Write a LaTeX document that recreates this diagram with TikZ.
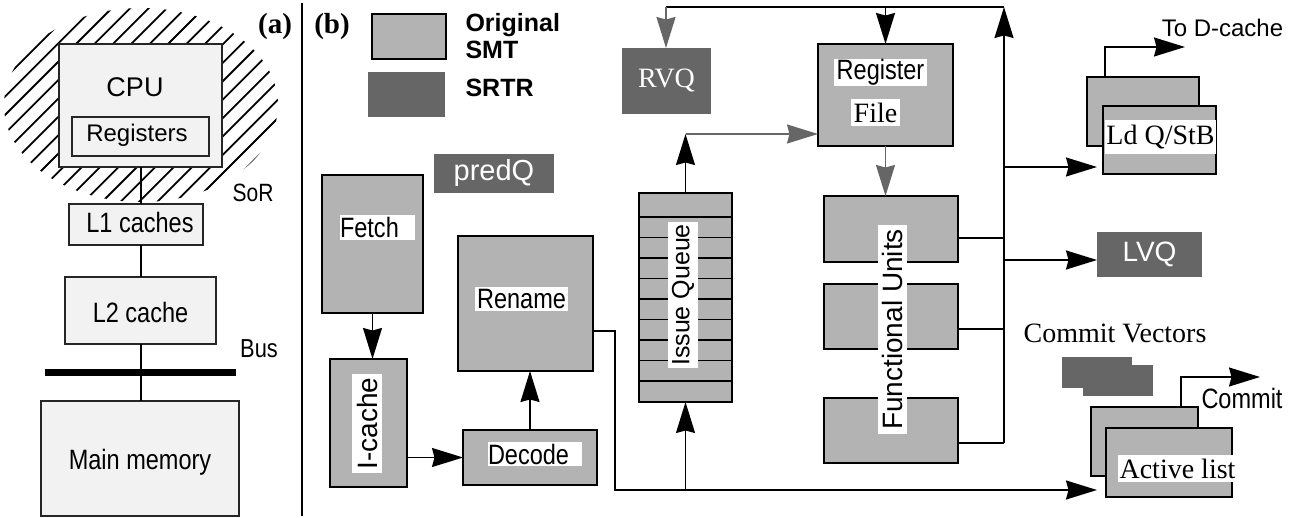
\documentclass[tikz,border=0pt]{standalone}
\usepackage{fontspec}
\setmainfont{Liberation Serif}
\newfontfamily\sfn{Liberation Sans}
\newfontfamily\sfc{Liberation Sans}[FakeStretch=0.84]
\usetikzlibrary{arrows.meta,calc}
\definecolor{lg}{HTML}{B3B3B3}
\definecolor{dg}{HTML}{666666}
\definecolor{pg}{HTML}{F2F2F2}
\newcommand\myfs[1]{\fontsize{#1}{#1}\selectfont}
\newcommand\mybox[6]{\node[#1, anchor=north west, minimum width={(#5-#3)*1pt}, minimum height={(#6-#4)*1pt}, inner sep=0pt, outer sep=0pt] (#2) at (#3,#4) {};}
\tikzset{
  bl/.style={draw=black, fill=lg, line width=1.8pt},
  bd/.style={draw=none, fill=dg},
  ba/.style={draw=black!85, fill=pg, line width=1.3pt},
  wl/.style={fill=white, inner sep=0pt},
  ln/.style={line width=1.6pt},
  bigtip/.tip={Stealth[length=31pt 0,width=19pt 0,inset=2.5pt]},
  bar/.style={-bigtip, line width=1.6pt},
  gar/.style={-bigtip, draw=dg, line width=1.6pt},
}
\begin{document}
\begin{tikzpicture}[x=1pt, y=-1pt]
\useasboundingbox (0,0) rectangle (1296,518);
\fill[white] (0,0) rectangle (1296,518);

% ---------------- (a) ----------------
\begin{scope}
  \clip (141,105) ellipse [x radius=137pt, y radius=97pt];
  \foreach \k in {-14,...,18} \draw[line width=1.8pt] ({\k*18.4},212) -- ++(210,-210);
\end{scope}
\mybox{ba}{cpu}{59}{44}{222}{167}
\mybox{ba}{reg}{72}{117}{209}{156}
\mybox{ba}{l1}{69}{204}{203}{245}
\mybox{ba}{l2}{65}{277}{216}{344}
\mybox{ba}{mm}{41}{401}{239}{516}
\coordinate (cx) at (141,0);
\draw[line width=1.3pt] (cpu.south -| cx) -- (l1.north -| cx);
\draw[line width=1.3pt] (l1.south -| cx) -- (l2.north -| cx);
\draw[line width=1.3pt] (l2.south -| cx) -- (mm.north -| cx);
\mybox{fill=black}{bus}{45}{369}{236}{376}

\node[anchor=base, font=\sfn\myfs{27}] (cput) at (135,97) {CPU};
\node[anchor=base, font=\sfn\myfs{24}] (regt) at (137,141.5) {Registers};
\node[anchor=base, font=\sfc\myfs{25}] (sort) at (253,201.5) {SoR};
\node[anchor=base, font=\sfc\myfs{28}] (l1t) at (140,233) {L1 caches};
\node[anchor=base, font=\sfc\myfs{28}] (l2t) at (140.5,323) {L2 cache};
\node[anchor=base, font=\sfc\myfs{26}] (bust) at (259,358) {Bus};
\node[anchor=base, font=\sfc\myfs{28}] (mmt) at (140,469) {Main memory};
\node[anchor=base, font=\bfseries\myfs{29}] (la) at (275,34) {(a)};

\coordinate (sepT) at (302,3);
\coordinate (sepB) at (302,516);
\draw[line width=1.8pt] (sepT) -- (sepB);

% ---------------- (b) ----------------
\node[anchor=base, font=\bfseries\myfs{29}] (lb) at (332,34) {(b)};
\mybox{bl}{legl}{372}{14}{446}{59}
\mybox{bd}{legd}{368}{72}{445}{117}
\node[anchor=base west, font=\sfn\bfseries\myfs{25}] (orig) at (462,32) {Original};
\node[anchor=base west, font=\sfn\bfseries\myfs{25}] (smt) at (462,59) {SMT};
\node[anchor=base west, font=\sfn\bfseries\myfs{25}] (srtr) at (462,97) {SRTR};

\mybox{bd}{predq}{434}{154}{554}{193}
\mybox{bl}{fetch}{322}{175}{423}{313}
\mybox{bl}{ren}{458}{236}{593}{371}
\mybox{bl}{icache}{330}{359}{407}{487}
\mybox{bl}{dec}{463}{430}{597}{485}
\mybox{bl}{iq}{639}{193}{732}{402}
\foreach \k in {0,...,8} \draw[line width=1.6pt] (639,{217+20.5*\k}) -- (732,{217+20.5*\k});
\mybox{bd}{rvq}{622}{48}{711}{114}
\mybox{bl}{rf}{818}{44}{953}{146}
\mybox{bl}{fu1}{824}{196}{958}{262}
\mybox{bl}{fu2}{824}{284}{958}{349}
\mybox{bl}{fu3}{824}{398}{958}{463}
\mybox{bl}{ldb}{1087}{77}{1199}{146}
\mybox{bl}{ldf}{1103}{106}{1216}{174}
\mybox{bd}{lvq}{1097}{232}{1202}{277}
\mybox{bd}{cvb}{1062}{357}{1132}{388}
\mybox{bd}{cvf}{1083}{365}{1153}{396}
\mybox{bl}{alb}{1091}{407}{1198}{476}
\mybox{bl}{alf}{1106}{428}{1232}{497}

% labels in dark boxes
\node[font=\sfn\myfs{29}, text=white] (predqt) at (predq) {predQ};
\node[font=\myfs{28}, text=white] (rvqt) at (rvq) {RVQ};
\node[font=\sfn\myfs{28}, text=white] (lvqt) at (lvq) {LVQ};

% white-backed labels
\node[wl, font=\sfc\myfs{28}, text width=75pt, align=left, minimum height=25pt] (fetcht) at (377.5,227.5) {Fetch};
\node[wl, font=\sfc\myfs{28}, minimum width=93pt, minimum height=24pt] (rent) at (521.5,299) {Rename};
\node[wl, font=\sfc\myfs{28}, text width=94pt, align=left, minimum height=24pt] (dect) at (535,454) {Decode};
\node[wl, font=\sfn\myfs{28}, rotate=90, minimum width=99pt, minimum height=30pt] (icachet) at (367,423.5) {I-cache};
\node[wl, font=\sfn\myfs{25}, rotate=90, minimum width=146pt, minimum height=30pt] (iqt) at (683,295) {Issue Queue};
\node[wl, font=\sfn\myfs{28}, rotate=90, minimum width=209pt, minimum height=29pt] (fut) at (892.5,329.5) {Functional Units};
\node[wl, font=\sfc\myfs{28}, minimum width=93pt, minimum height=27pt] (rft1) at (880.5,72.5) {Register};
\node[wl, font=\myfs{28}, minimum width=49pt, minimum height=27pt] (rft2) at (875.5,112.5) {File};
\node[wl, font=\myfs{28}, minimum width=111pt, minimum height=34pt] (ldt) at (1160.5,137) {Ld Q/StB};
\node[wl, font=\myfs{28}, minimum width=119pt, minimum height=27pt] (alt) at (1177.5,468.5) {Active list};

% free texts
\node[anchor=base, font=\myfs{28}] (cvt) at (1115,343) {Commit Vectors};
\node[anchor=base, font=\sfn\myfs{24}] (tdc) at (1222.5,37) {To D-cache};
\node[anchor=base, font=\sfc\myfs{28}] (comt) at (1242,409) {Commit};

% connectors
\draw[bar] (fetch.south) -- (fetch.south |- icache.north);
\draw[bar] (icache.east |- dec.west) -- (dec.west);
\draw[bar] (dec.north) -- (dec.north |- ren.south);

\coordinate (c0) at (615,331);
\coordinate (c1) at (615,490);
\draw[bar, shorten >=9pt] (ren.east |- c0) -- (c0) -- (c1) -- (alf.west |- c1);
\draw[bar] (iq.south |- c1) -- (iq.south);

\coordinate (c2) at (686,134);
\draw[bar] (iq.north) -- (iq.north |- c2);
\draw[gar] (iq.north |- c2) -- (rf.west |- c2);
\draw[gar] (rf.south) -- (rf.south |- fu1.north);

\coordinate (t1) at (666,7);
\coordinate (t3) at (1004,7);
\coordinate (v1) at (1004,238);
\coordinate (v2) at (1004,329);
\coordinate (v3) at (1004,443);
\coordinate (v4) at (1004,167);
\coordinate (v5) at (1004,260);
\draw[ln] (fu1.east |- v1) -- (v1);
\draw[ln] (fu2.east |- v2) -- (v2);
\draw[ln] (fu3.east |- v3) -- (v3);
\draw[bar] (v3) -- (t3);
\draw[ln] (t3) -- (t1);
\draw[gar] (t1) -- (t1 |- rvq.north);
\draw[bar] (rf.north |- t1) -- (rf.north);
\draw[bar, shorten >=6pt] (v4) -- (ldf.west |- v4);
\draw[bar] (v5) -- (lvq.west |- v5);

\coordinate (d1) at (1105,47);
\coordinate (d2) at (1185,47);
\draw[bar] (d1 |- ldb.north) -- (d1) -- (d2);
\coordinate (e1) at (1181,377);
\coordinate (e2) at (1260,377);
\draw[bar] (e1 |- alb.north) -- (e1) -- (e2);
\end{tikzpicture}
\end{document}
